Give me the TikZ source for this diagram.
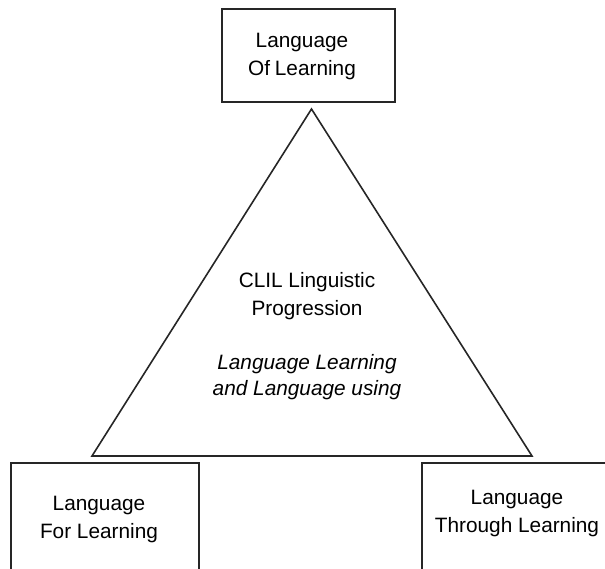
\documentclass[tikz,border=0pt]{standalone}
\usepackage{fontspec}
\setmainfont{Liberation Sans}
\begin{document}
\begin{tikzpicture}[x=1pt,y=-1pt,
  boxstyle/.style={draw=black!85, line width=2.3pt, inner sep=0pt},
  labelstyle/.style={align=center, font=\fontsize{20.8}{27.5}\selectfont, text=black, inner sep=0pt},
  tri/.style={draw=black!85, line width=1.6pt, line join=miter}]
\useasboundingbox (0,0) rectangle (605,568);
\clip (0,0) rectangle (605,568);
% top box
\node[boxstyle, minimum width=173pt, minimum height=93pt] (topbox) at (308.5,55.5) {};
\node[labelstyle, anchor=base] (toptxt) at (302,75) {Language\\Of\kern-1pt\ Learning};
% triangle
\coordinate (apex) at (311.5,109);
\coordinate (bl) at (92,456);
\coordinate (br) at (532,456);
\draw[tri] (apex) -- (bl) -- (br) -- cycle;
% centre text
\node[labelstyle, anchor=base] (clil) at (307,315) {CLIL Linguistic\\Progression};
\node[labelstyle, anchor=base, font=\fontsize{20.8}{25.5}\selectfont\itshape] (use) at (307,395) {Language Learning\\and Language using};
% bottom-left box
\draw[boxstyle] (11,463) rectangle (199,600);
\node[labelstyle, anchor=base] (lefttxt) at (99,538) {Language\\For Learning};
% bottom-right box
\draw[boxstyle] (422,463) rectangle (640,600);
\node[labelstyle, anchor=base] (righttxt) at (517,532) {Language\\Through Learning};
\end{tikzpicture}
\end{document}
